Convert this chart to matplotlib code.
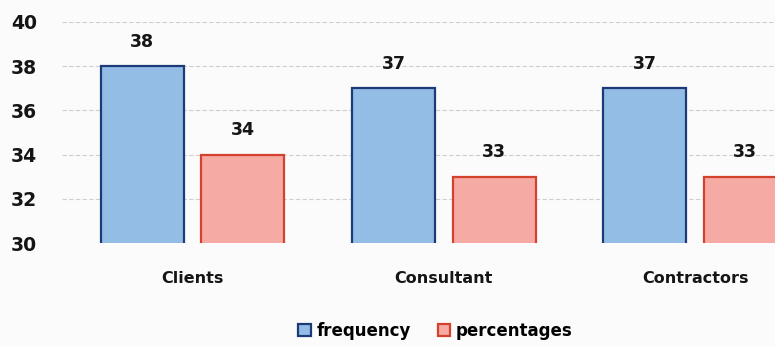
import matplotlib
matplotlib.use("Agg")
import matplotlib.pyplot as plt
import numpy as np

# survey response groups
categories = ["Clients", "Consultant", "Contractors"]
frequency = [38, 37, 37]
percentages = [34, 33, 33]
y_ticks = [30, 32, 34, 36, 38, 40]

plt.rcParams["font.family"] = ["DejaVu Sans"]

fig = plt.figure(figsize=(7.75, 3.47), dpi=100)
fig.patch.set_facecolor("#fcfbfb")
# axes runs a little past the right edge so the last bar is clipped
ax = fig.add_axes([0.08, 0.2997, 0.979, 0.6369])
ax.set_facecolor("none")

x = np.arange(len(categories))
width = 0.33
offset = 0.2

b1 = ax.bar(x - offset, frequency, width, bottom=0, color="#94bde6",
            edgecolor="#1d3a78", linewidth=1.6, label="frequency", zorder=3)
b2 = ax.bar(x + offset, percentages, width, bottom=0, color="#f6aaa4",
            edgecolor="#d2422c", linewidth=1.6, label="percentages", zorder=3)

for bars, vals in ((b1, frequency), (b2, percentages)):
    for rect, v in zip(bars, vals):
        ax.annotate(f"{v}", (rect.get_x() + rect.get_width() / 2, v),
                    xytext=(0, 11), textcoords="offset points",
                    ha="center", va="bottom", fontsize=12.5, fontweight="bold",
                    color="#151515")

ax.set_ylim(30, 40)
ax.set_xlim(-0.52, 2.5)
ax.set_yticks(y_ticks)
ax.set_xticks(x)
ax.set_xticklabels(categories)

ax.tick_params(axis="y", length=0, pad=18, labelsize=13.5, labelcolor="#151515")
ax.tick_params(axis="x", length=0, pad=20.5, labelsize=11.5, labelcolor="#151515")
for lbl in ax.get_yticklabels():
    lbl.set_fontweight("bold")
for lbl in ax.get_xticklabels():
    lbl.set_fontweight("bold")

ax.grid(axis="y", color="#cfcfcf", linestyle=(0, (4, 2)), linewidth=0.8, zorder=0)
for side in ("top", "right", "left", "bottom"):
    ax.spines[side].set_visible(False)

fig.legend(loc="center", bbox_to_anchor=(0.562, 0.046), ncol=2, frameon=False,
           handlelength=0.75, handleheight=0.75, handletextpad=0.35,
           columnspacing=1.6, prop={"size": 12, "weight": "bold"})

fig.savefig("out.png", dpi=100, facecolor=fig.get_facecolor())
